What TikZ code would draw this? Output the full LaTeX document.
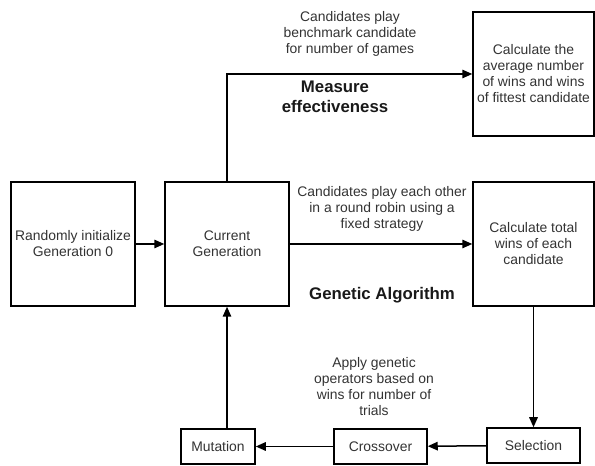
\documentclass[tikz,border=0pt]{standalone}
\usepackage{fontspec}
\setmainfont{Liberation Sans}
\usetikzlibrary{arrows.meta,calc}
\newcommand{\txt}{\fontsize{13.9}{16}\selectfont}
\newcommand{\hd}{\bfseries\fontsize{16.8}{20}\selectfont}
\tikzset{
   every path/.style={>={Triangle[length=10pt,width=8.5pt]}},
   bigbox/.style={draw,line width=1.5pt,align=center,inner sep=0pt,minimum width=124pt,minimum height=124pt,font=\txt,text=black!80},
   smallbox/.style={draw,line width=1.5pt,align=center,inner sep=0pt,minimum height=35pt,font=\txt,text=black!80},
   lbl/.style={align=center,inner sep=0pt,font=\txt,text=black!80},
   head/.style={align=center,inner sep=0pt,font=\hd,text=black!90},
   arr/.style={->,line width=1.5pt},
}

\begin{document}
\begin{tikzpicture}[x=1pt, y=1pt]
    \useasboundingbox (0,0) rectangle (595,466);

    \node[bigbox] (init) at (73,222) {Randomly initialize\\Generation 0};
    \node[bigbox] (cur)  at (227,222) {Current\\Generation};
    \node[bigbox,minimum width=121pt] (avg) at (533.5,392) {Calculate the\\average number\\of wins and wins\\of fittest candidate};
    \node[bigbox,minimum width=121pt] (tot) at (533.5,222) {Calculate total\\wins of each\\candidate};

    \node[smallbox,minimum width=74pt] (mut)   at (218,19.5) {Mutation};
    \node[smallbox,minimum width=93pt] (cross) at (380.5,19.5) {Crossover};
    \node[smallbox,minimum width=93pt] (sel)   at (533.5,20.5) {Selection};

    \node[lbl]  (bench) at (350,432.5) {Candidates play\\benchmark candidate\\for number of games};
    \node[head] (meas)  at (335,369) {Measure\\effectiveness};
    \node[lbl]  (robin) at (382,257) {Candidates play each other\\in a round robin using a\\fixed strategy};
    \node[head] (gen)   at (382,171) {Genetic Algorithm};
    \node[lbl]  (apply) at (374,79.5) {Apply genetic\\operators based on\\wins for number of\\trials};

    \draw[arr] (init) -- (cur);
    \draw[arr] (cur) -- (tot);
    \draw[arr] (cur.north) |- (avg.west);
    \draw[arr] (tot.south) -- (sel.north);
    \draw[arr] (sel) -- (cross);
    \draw[arr] (cross) -- (mut);
    \draw[arr] (mut.north -| cur.south) -- (cur.south);

\end{tikzpicture}
\end{document}
